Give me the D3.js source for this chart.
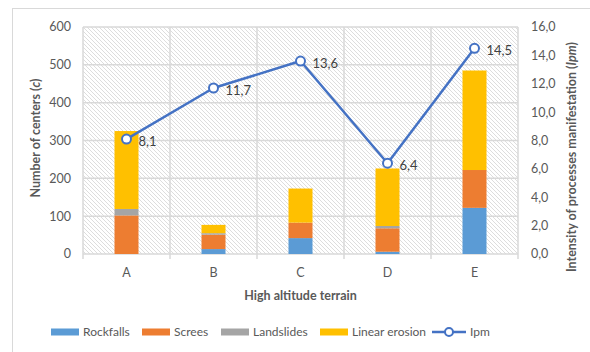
<!DOCTYPE html>
<html lang="en">
<head>
<meta charset="utf-8">
<script src="https://d3js.org/d3.v7.min.js"></script>
<style>
  body { margin: 0; background: #fff; }
  svg text { font-family: Lato, "Open Sans", sans-serif; }
</style>
</head>
<body>
<script>
    // data
    const terrains = ["A", "B", "C", "D", "E"];
    const rockfalls = [0, 13, 42, 6, 122];
    const screes = [102, 38, 41, 62, 100];
    const landslides = [17, 4, 0, 6, 0];
    const linearErosion = [206, 22, 90, 152, 263];
    const ipm = [8.1, 11.7, 13.6, 6.4, 14.5];
    const leftTicks = [0, 100, 200, 300, 400, 500, 600];
    const rightTicks = [0, 2, 4, 6, 8, 10, 12, 14, 16];

    const seriesNames = ["Rockfalls", "Screes", "Landslides", "Linear erosion"];
    const seriesColors = ["#5b9bd5", "#ed7d31", "#a5a5a5", "#ffc000"];
    const lineColor = "#4472c4";

    const width = 590, height = 352;
    const plot = {left: 83, right: 518, top: 27, bottom: 254};

    const svg = d3.select("body").append("svg")
      .attr("width", width)
      .attr("height", height);

    // outer chart frame
    svg.append("rect")
      .attr("x", 12.5).attr("y", 8.5)
      .attr("width", 700).attr("height", 500)
      .attr("fill", "#fff")
      .attr("stroke", "#d9d9d9");

    // hatch pattern for plot background
    const pat = svg.append("defs").append("pattern")
      .attr("id", "hatch")
      .attr("patternUnits", "userSpaceOnUse")
      .attr("width", 4).attr("height", 4);
    pat.append("rect").attr("width", 4).attr("height", 4).attr("fill", "#fff");
    pat.append("path")
      .attr("d", "M-1,-1 L5,5 M-1,3 L1,5 M3,-1 L5,1")
      .attr("stroke", "#d4d4d4")
      .attr("stroke-width", 0.8);

    const x = d3.scaleBand()
      .domain(terrains)
      .range([plot.left, plot.right]);
    const y = d3.scaleLinear().domain([0, 600]).range([plot.bottom, plot.top]);
    const y2 = d3.scaleLinear().domain([0, 16]).range([plot.bottom, plot.top]);

    svg.append("rect")
      .attr("x", plot.left).attr("y", plot.top)
      .attr("width", plot.right - plot.left)
      .attr("height", plot.bottom - plot.top)
      .attr("fill", "url(#hatch)");

    // horizontal gridlines
    svg.append("g").selectAll("line")
      .data(leftTicks)
      .join("line")
      .attr("x1", plot.left).attr("x2", plot.right)
      .attr("y1", d => y(d)).attr("y2", d => y(d))
      .attr("stroke", "#d9d9d9")
      .attr("stroke-width", 1.5);

    // vertical gridlines at category boundaries (with ticks below axis)
    const bounds = terrains.map(d => x(d)).concat([plot.right]);
    svg.append("g").selectAll("line")
      .data(bounds)
      .join("line")
      .attr("x1", d => d).attr("x2", d => d)
      .attr("y1", plot.top).attr("y2", plot.bottom + 5)
      .attr("stroke", "#d9d9d9")
      .attr("stroke-width", 1.5);

    // left axis labels
    svg.append("g").selectAll("text")
      .data(leftTicks)
      .join("text")
      .attr("x", 71)
      .attr("y", d => y(d))
      .attr("dy", "0.35em")
      .attr("text-anchor", "end")
      .attr("font-size", 12.5)
      .attr("fill", "#595959")
      .text(d => d);

    // right axis labels
    svg.append("g").selectAll("text")
      .data(rightTicks)
      .join("text")
      .attr("x", 531)
      .attr("y", d => y2(d))
      .attr("dy", "0.35em")
      .attr("font-size", 12.5)
      .attr("fill", "#595959")
      .text(d => d.toFixed(1).replace(".", ","));

    // category labels
    svg.append("g").selectAll("text")
      .data(terrains)
      .join("text")
      .attr("x", d => x(d) + x.bandwidth() / 2)
      .attr("y", 277)
      .attr("text-anchor", "middle")
      .attr("font-size", 12.5)
      .attr("fill", "#595959")
      .text(d => d);

    // stacked bars
    const rows = terrains.map((t, i) => ({
      terrain: t,
      "Rockfalls": rockfalls[i],
      "Screes": screes[i],
      "Landslides": landslides[i],
      "Linear erosion": linearErosion[i]
    }));
    const stacked = d3.stack().keys(seriesNames)(rows);
    const barW = 24;

    svg.append("g").selectAll("g")
      .data(stacked)
      .join("g")
      .attr("fill", (d, i) => seriesColors[i])
      .selectAll("rect")
      .data(d => d)
      .join("rect")
      .attr("x", d => x(d.data.terrain) + x.bandwidth() / 2 - barW / 2)
      .attr("y", d => y(d[1]))
      .attr("width", barW)
      .attr("height", d => y(d[0]) - y(d[1]));

    // Ipm line
    const pts = terrains.map((t, i) => ({t: t, v: ipm[i]}));
    svg.append("path")
      .datum(pts)
      .attr("fill", "none")
      .attr("stroke", lineColor)
      .attr("stroke-width", 2.5)
      .attr("stroke-linejoin", "round")
      .attr("d", d3.line()
        .x(d => x(d.t) + x.bandwidth() / 2)
        .y(d => y2(d.v)));

    svg.append("g").selectAll("circle")
      .data(pts)
      .join("circle")
      .attr("cx", d => x(d.t) + x.bandwidth() / 2)
      .attr("cy", d => y2(d.v))
      .attr("r", 4.5)
      .attr("fill", "#fff")
      .attr("stroke", lineColor)
      .attr("stroke-width", 2);

    svg.append("g").selectAll("text")
      .data(pts)
      .join("text")
      .attr("x", d => x(d.t) + x.bandwidth() / 2 + 12)
      .attr("y", d => y2(d.v) + 2)
      .attr("dy", "0.35em")
      .attr("font-size", 13)
      .attr("fill", "#404040")
      .text(d => d.v.toFixed(1).replace(".", ","));

    // axis titles
    svg.append("text")
      .attr("transform", "translate(40,138) rotate(-90)")
      .attr("text-anchor", "middle")
      .attr("font-size", 12.5)
      .attr("font-weight", "bold")
      .attr("fill", "#595959")
      .call(t => {
        t.append("tspan").text("Number of centers (");
        t.append("tspan").attr("font-style", "italic").text("c");
        t.append("tspan").text(")");
      });

    svg.append("text")
      .attr("transform", "translate(576,157) rotate(-90)")
      .attr("text-anchor", "middle")
      .attr("font-size", 12.5)
      .attr("font-weight", "bold")
      .attr("fill", "#595959")
      .call(t => {
        t.append("tspan").text("Intensity of processes manifestation (");
        t.append("tspan").attr("font-style", "italic").text("Ipm");
        t.append("tspan").text(")");
      });

    svg.append("text")
      .attr("x", (plot.left + plot.right) / 2)
      .attr("y", 300)
      .attr("text-anchor", "middle")
      .attr("font-size", 12.5)
      .attr("font-weight", "bold")
      .attr("fill", "#595959")
      .text("High altitude terrain");

    // legend
    const legendX = [51, 142, 221, 320];
    const legY = 332;
    const leg = svg.append("g");
    seriesNames.forEach((name, i) => {
      leg.append("rect")
        .attr("x", legendX[i]).attr("y", legY - 3.5)
        .attr("width", 28).attr("height", 7)
        .attr("fill", seriesColors[i]);
      leg.append("text")
        .attr("x", legendX[i] + 32).attr("y", legY)
        .attr("dy", "0.35em")
        .attr("font-size", 12)
        .attr("fill", "#595959")
        .text(name);
    });
    leg.append("line")
      .attr("x1", 432).attr("x2", 466)
      .attr("y1", legY).attr("y2", legY)
      .attr("stroke", lineColor).attr("stroke-width", 2.5);
    leg.append("circle")
      .attr("cx", 449).attr("cy", legY).attr("r", 4)
      .attr("fill", "#fff").attr("stroke", lineColor).attr("stroke-width", 2);
    leg.append("text")
      .attr("x", 470).attr("y", legY)
      .attr("dy", "0.35em")
      .attr("font-size", 12)
      .attr("fill", "#595959")
      .text("Ipm");
</script>
</body>
</html>
